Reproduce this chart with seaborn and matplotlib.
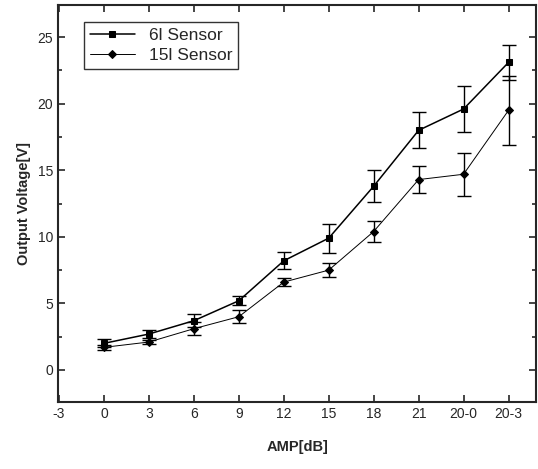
import matplotlib
matplotlib.use("Agg")
import matplotlib.pyplot as plt
from matplotlib.ticker import MultipleLocator
import seaborn as sns
import numpy as np
import pandas as pd

# x categories (first one is an empty slot on the axis)
x_labels = ["-3", "0", "3", "6", "9", "12", "15", "18", "21", "20-0", "20-3"]
amp = ["0", "3", "6", "9", "12", "15", "18", "21", "20-0", "20-3"]

v_6l = [2.0, 2.7, 3.7, 5.2, 8.2, 9.9, 13.8, 18.0, 19.6, 23.1]
err_6l = [0.3, 0.3, 0.5, 0.35, 0.65, 1.1, 1.2, 1.35, 1.7, 1.3]
v_15l = [1.7, 2.1, 3.1, 4.0, 6.6, 7.5, 10.4, 14.3, 14.7, 19.5]
err_15l = [0.2, 0.15, 0.5, 0.5, 0.3, 0.5, 0.8, 1.0, 1.6, 2.6]

pos = [x_labels.index(a) for a in amp]
df = pd.DataFrame({
    "pos": pos * 2,
    "v": v_6l + v_15l,
    "err": err_6l + err_15l,
    "sensor": ["6l Sensor"] * len(amp) + ["15l Sensor"] * len(amp),
})

sns.set_style("ticks")
plt.rcParams['font.family'] = ['Liberation Sans', 'DejaVu Sans']

fig = plt.figure(figsize=(5.38, 4.69), dpi=100)
ax = fig.add_axes([0.108, 0.143, 0.889, 0.846])

styles = {"6l Sensor": ("s", 1.1, 5.0), "15l Sensor": ("D", 0.7, 4.5)}
for name, (mk, lw, ms) in styles.items():
    d = df[df.sensor == name]
    ax.errorbar(d.pos, d.v, yerr=d.err, fmt="none", ecolor="black",
                elinewidth=1.0, capsize=5, capthick=1.0)
    sns.lineplot(data=d, x="pos", y="v", ax=ax, color="black", lw=lw,
                 marker=mk, markersize=ms, markeredgecolor="black",
                 label=name)

ax.set_xlim(-0.02, 10.62)
ax.set_ylim(-2.4, 27.4)
ax.set_xticks(range(len(x_labels)))
ax.set_xticklabels(x_labels)
ax.yaxis.set_major_locator(MultipleLocator(5))
ax.yaxis.set_minor_locator(MultipleLocator(2.5))
ax.tick_params(which="both", direction="in", top=True, right=True,
               labelsize=10, width=1.2)
ax.tick_params(which="major", length=5)
ax.tick_params(which="minor", length=3)
for s in ax.spines.values():
    s.set_linewidth(1.5)

ax.set_xlabel("AMP[dB]", fontsize=10.5, fontweight="bold", labelpad=14)
ax.set_ylabel("Output Voltage[V]", fontsize=10.5, fontweight="bold", labelpad=5)

leg = ax.legend(loc="upper left", bbox_to_anchor=(0.035, 0.98), fontsize=12.5,
                frameon=True, fancybox=False, edgecolor="black",
                handlelength=2.6, borderpad=0.35, labelspacing=0.3)
leg.get_frame().set_linewidth(1.0)

fig.savefig("out.png", dpi=100)
